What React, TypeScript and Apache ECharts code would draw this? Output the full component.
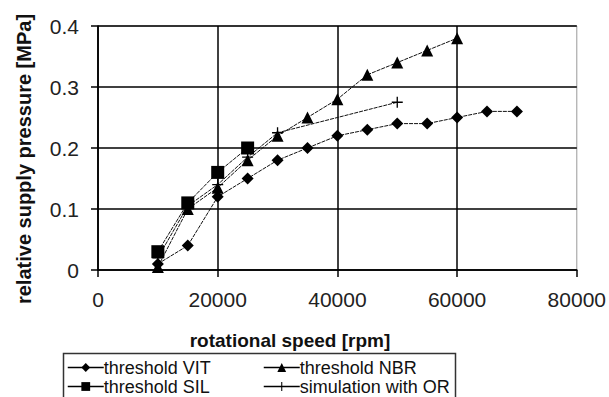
import React, { useEffect, useRef } from "react";
import * as echarts from "echarts";

const vitX = [10000, 15000, 20000, 25000, 30000, 35000, 40000, 45000, 50000, 55000, 60000, 65000, 70000];
const vitY = [0.01, 0.04, 0.12, 0.15, 0.18, 0.2, 0.22, 0.23, 0.24, 0.24, 0.25, 0.26, 0.26];
const nbrX = [10000, 15000, 20000, 25000, 30000, 35000, 40000, 45000, 50000, 55000, 60000];
const nbrY = [0.005, 0.1, 0.135, 0.18, 0.22, 0.25, 0.28, 0.32, 0.34, 0.36, 0.38];
const silX = [10000, 15000, 20000, 25000];
const silY = [0.03, 0.11, 0.16, 0.2];
const orX = [10000, 15000, 20000, 25000, 30000, 50000];
const orY = [0.02, 0.105, 0.14, 0.185, 0.225, 0.275];

const xTicks = [0, 20000, 40000, 60000, 80000];
const yTicks = [0, 0.1, 0.2, 0.3, 0.4];

const seriesNames = ["threshold VIT", "threshold NBR", "threshold SIL", "simulation with OR"];
const xTitle = "rotational speed [rpm]";
const yTitle = "relative supply pressure [MPa]";

const pair = (xs: number[], ys: number[]) => xs.map((x, i) => [x, ys[i]]);

const PLUS = "path://M4.4,0h1.2v4.4h4.4v1.2h-4.4v4.4h-1.2v-4.4h-4.4v-1.2h4.4z";
const FONT = "Liberation Sans, Arial, sans-serif";

export default function App() {
  const ref = useRef<HTMLDivElement>(null);
  useEffect(() => {
    if (!ref.current) return;
    const chart = echarts.init(ref.current, undefined, { renderer: "svg" });
    const lineStyle = { color: "#111", width: 1, type: [4, 1] as any };
    const mk = (name: string, data: number[][], symbol: string, size: number) => ({
      name,
      type: "line",
      data,
      symbol,
      symbolSize: size,
      lineStyle,
      itemStyle: { color: "#000" },
      z: 3,
    });
    const legendBase = {
      orient: "vertical",
      top: 358,
      itemGap: 0,
      itemWidth: 36,
      itemHeight: 11,
      textStyle: { fontSize: 18, color: "#111", lineHeight: 19, fontFamily: FONT, padding: [0, 0, 0, -5] },
      lineStyle: { type: "solid", color: "#000", width: 1.5 },
      padding: 0,
    };
    chart.setOption({
      animation: false,
      textStyle: { fontFamily: FONT },
      grid: {
        left: 98,
        right: 30,
        top: 26,
        bottom: 127,
        show: true,
        borderColor: "#999",
        borderWidth: 1,
        backgroundColor: "transparent",
      },
      xAxis: {
        type: "value",
        min: xTicks[0],
        max: xTicks[xTicks.length - 1],
        interval: 20000,
        axisLine: { show: true, lineStyle: { color: "#000", width: 1.5 } },
        axisTick: { show: true, length: 7, lineStyle: { color: "#000", width: 1.5 } },
        axisLabel: { color: "#222", fontSize: 21, margin: 19, fontFamily: FONT, formatter: (v: number) => String(v) },
        splitLine: { show: true, showMaxLine: false, lineStyle: { color: "#000", width: 1.5 } },
      },
      yAxis: {
        type: "value",
        min: yTicks[0],
        max: yTicks[yTicks.length - 1],
        interval: 0.1,
        axisLine: { show: true, lineStyle: { color: "#000", width: 1.5 } },
        axisTick: { show: true, length: 7, lineStyle: { color: "#000", width: 1.5 } },
        axisLabel: { color: "#222", fontSize: 21, margin: 19, fontFamily: FONT, formatter: (v: number) => String(v) },
        splitLine: { show: true, lineStyle: { color: "#000", width: 1.5 } },
      },
      legend: [
        { ...legendBase, data: [seriesNames[0], seriesNames[2]], left: 67 },
        { ...legendBase, data: [seriesNames[1], seriesNames[3]], left: 263 },
      ],
      graphic: [
        {
          type: "rect",
          shape: { x: 63.5, y: 353.5, width: 392, height: 60 },
          style: { fill: "none", stroke: "#333", lineWidth: 1.5 },
          z: 10,
        },
        {
          type: "text",
          x: 290,
          y: 340,
          style: {
            text: xTitle,
            font: "bold 19px " + FONT,
            fill: "#111",
            align: "center",
            verticalAlign: "middle",
          },
        },
        {
          type: "text",
          x: 24,
          y: 159,
          rotation: Math.PI / 2,
          style: {
            text: yTitle,
            font: "bold 20px " + FONT,
            fill: "#111",
            align: "center",
            verticalAlign: "middle",
          },
        },
      ],
      series: [
        mk(seriesNames[0], pair(vitX, vitY), "diamond", 12),
        mk(seriesNames[1], pair(nbrX, nbrY), "triangle", 12),
        mk(seriesNames[2], pair(silX, silY), "rect", 13),
        mk(seriesNames[3], pair(orX, orY), PLUS, 11),
      ],
    });
    return () => chart.dispose();
  }, []);
  return <div ref={ref} style={{ width: 609, height: 397, position: "absolute", left: 0, top: 0 }} />;
}
